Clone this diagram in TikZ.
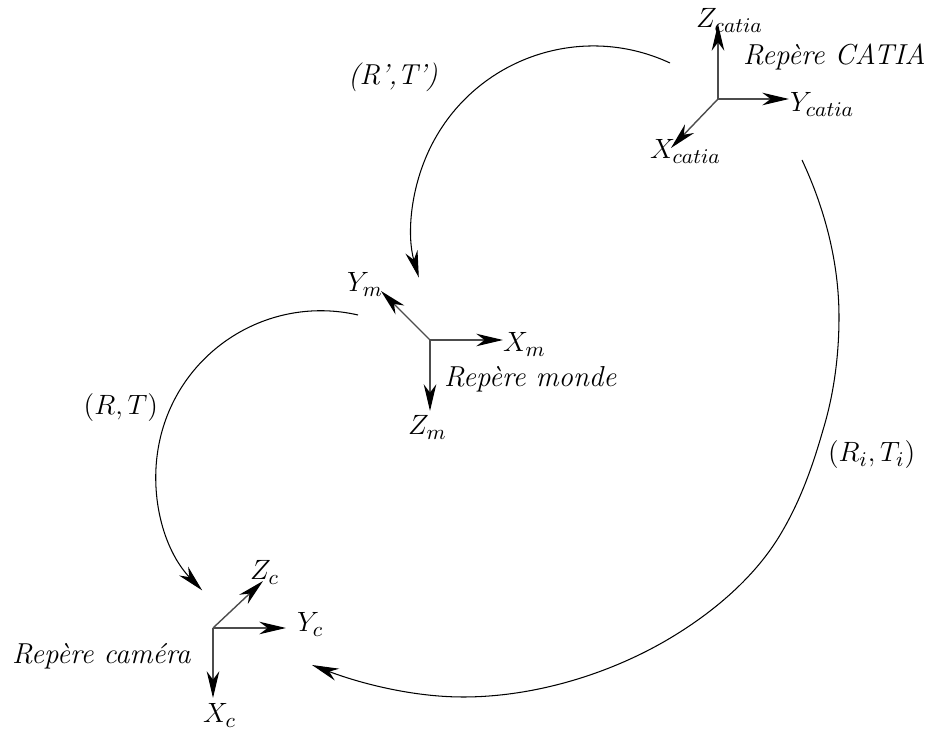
\documentclass[tikz,border=0pt]{standalone}
\usetikzlibrary{arrows.meta}
\begin{document}
\begin{tikzpicture}[x=0.43pt,y=-0.43pt,
  font=\fontsize{12.4}{14}\selectfont,
  tip/.tip={Stealth[black,length=11.5pt,width=5.4pt,inset=3.6pt]},
  axis/.style={draw=black!70,line width=0.6pt,-tip},
  curv/.style={draw=black,line width=0.45pt,-tip},
  lbl/.style={inner sep=0pt,outer sep=0pt}]
\useasboundingbox (0,0) rectangle (931,729);

% CATIA frame
\coordinate (o1) at (718,99);
\coordinate (z1) at (718,24);
\coordinate (y1) at (789,99);
\coordinate (x1) at (671,148);
\draw[axis] (o1) -- (z1);
\draw[axis] (o1) -- (y1);
\draw[axis] (o1) -- (x1);
\node[lbl,anchor=base west] (lz1) at (696,28) {$Z_{catia}$};
\node[lbl,anchor=base west] (ly1) at (790,112) {$Y_{catia}$};
\node[lbl,anchor=base west] (lx1) at (650,159) {$X_{catia}$};
\node[lbl,anchor=base west] (t1) at (743,65) {\itshape Repère CATIA};

% world frame
\coordinate (o2) at (430,340);
\coordinate (x2) at (503,340);
\coordinate (y2) at (381,291);
\coordinate (z2) at (430,411);
\draw[axis] (o2) -- (x2);
\draw[axis] (o2) -- (y2);
\draw[axis] (o2) -- (z2);
\node[lbl,anchor=base west] (ly2) at (347,292) {$Y_m$};
\node[lbl,anchor=base west] (lx2) at (503,352) {$X_m$};
\node[lbl,anchor=base west] (lz2) at (408,435) {$Z_m$};
\node[lbl,anchor=base west] (t2) at (444,387) {\itshape Repère monde};

% camera frame
\coordinate (o3) at (213,628);
\coordinate (y3) at (286,628);
\coordinate (z3) at (263,581);
\coordinate (x3) at (213,698);
\draw[axis] (o3) -- (y3);
\draw[axis] (o3) -- (z3);
\draw[axis] (o3) -- (x3);
\node[lbl,anchor=base west] (lz3) at (250,580) {$Z_c$};
\node[lbl,anchor=base west] (ly3) at (297,632) {$Y_c$};
\node[lbl,anchor=base west] (lx3) at (203,723) {$X_c$};
\node[lbl,anchor=base west] (t3) at (12,664) {\itshape Repère caméra};

% transformations
\coordinate (s1) at (670,63);
\draw[curv] (s1) arc[start angle=-65,end angle=-196,radius=181.5];
\node[lbl,anchor=base west] (r1) at (348,85) {\itshape (R',T')};

\coordinate (s2) at (358,315);
\draw[curv] (s2) arc[start angle=-77,end angle=-224,radius=165];
\node[lbl,anchor=base east] (r2) at (158,415) {$(R,T)$};

\coordinate (q1) at (802,160);
\coordinate (q2) at (839,317);
\coordinate (q3) at (823,430);
\coordinate (q4) at (783,530);
\coordinate (q6) at (667,640);
\coordinate (q8) at (463,697);
\coordinate (q9) at (312,665);
\draw[curv] (q1) .. controls (825,209) and (839,263) .. (q2)
  .. controls (839,355) and (834,394) .. (q3)
  .. controls (813,465) and (801,499) .. (q4)
  .. controls (757,576) and (713,613) .. (q6)
  .. controls (607,675) and (533,697) .. (q8)
  .. controls (412,697) and (359,683) .. (q9);
\node[lbl,anchor=base west] (r3) at (828,462) {$(R_i,T_i)$};
\end{tikzpicture}
\end{document}
